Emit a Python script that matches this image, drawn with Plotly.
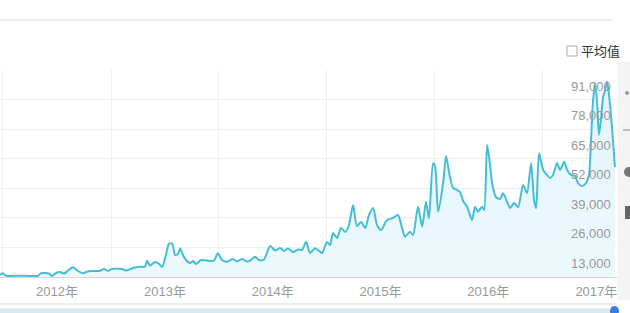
import plotly.graph_objects as go

dates = [
    "2011-06-22", "2011-07-02", "2011-07-12", "2011-08-29", "2011-10-29", "2011-11-08",
    "2011-12-05", "2011-12-15", "2011-12-29", "2012-01-11", "2012-01-25", "2012-02-04",
    "2012-02-24", "2012-03-12", "2012-03-29", "2012-04-12", "2012-04-29", "2012-05-26",
    "2012-06-08", "2012-06-22", "2012-07-05", "2012-08-08", "2012-08-22", "2012-09-14",
    "2012-10-08", "2012-10-25", "2012-11-01", "2012-11-11", "2012-11-28", "2012-12-12",
    "2012-12-22", "2013-01-04", "2013-01-14", "2013-01-25", "2013-02-04", "2013-02-14",
    "2013-02-21", "2013-03-03", "2013-03-13", "2013-03-27", "2013-04-06", "2013-04-16",
    "2013-05-03", "2013-06-02", "2013-06-16", "2013-06-29", "2013-07-13", "2013-07-30",
    "2013-08-19", "2013-09-02", "2013-09-19", "2013-10-06", "2013-10-19", "2013-11-02",
    "2013-11-15", "2013-12-02", "2013-12-23", "2014-01-09", "2014-01-26", "2014-02-08",
    "2014-02-22", "2014-03-11", "2014-03-28", "2014-04-10", "2014-04-24", "2014-05-07",
    "2014-05-24", "2014-06-07", "2014-06-17", "2014-07-04", "2014-07-14", "2014-07-24",
    "2014-08-07", "2014-08-20", "2014-09-03", "2014-09-16", "2014-09-30", "2014-10-13",
    "2014-10-27", "2014-11-10", "2014-11-23", "2014-12-07", "2014-12-20", "2015-01-03",
    "2015-01-23", "2015-02-12", "2015-03-01", "2015-03-15", "2015-03-25", "2015-04-11",
    "2015-04-21", "2015-05-08", "2015-05-22", "2015-06-04", "2015-06-14", "2015-06-28",
    "2015-07-05", "2015-07-15", "2015-08-01", "2015-08-11", "2015-08-24", "2015-09-04",
    "2015-09-17", "2015-09-27", "2015-10-08", "2015-10-21", "2015-11-07", "2015-11-17",
    "2015-11-27", "2015-12-11", "2015-12-18", "2015-12-28", "2016-01-07", "2016-01-14",
    "2016-01-27", "2016-02-10", "2016-02-20", "2016-03-05", "2016-03-15", "2016-03-28",
    "2016-04-11", "2016-04-28", "2016-05-11", "2016-05-25", "2016-06-04", "2016-06-11",
    "2016-06-21", "2016-07-05", "2016-07-18", "2016-07-28", "2016-08-07", "2016-08-21",
    "2016-08-31", "2016-09-14", "2016-09-24", "2016-10-07", "2016-10-21", "2016-10-31",
    "2016-11-14", "2016-11-27", "2016-12-07", "2016-12-14", "2016-12-21", "2016-12-28",
    "2017-01-04", "2017-01-10", "2017-01-17", "2017-01-24", "2017-01-31", "2017-02-06",
    "2017-02-13", "2017-02-23", "2017-03-05",
]

values = [
    880, 1630, 570, 570, 570, 1630,
    1540, 440, 1760, 2200, 1540, 2420,
    4260, 2640, 1630, 2330, 2640, 2770,
    3520, 2640, 3520, 3520, 2860, 3960,
    4530, 4530, 7170, 5060, 6590, 5710,
    4400, 9670, 14500, 14730, 9670, 10110,
    12620, 9670, 7470, 6150, 7030, 5710,
    7470, 7030, 7250, 10420, 7470, 6730,
    7910, 6810, 7910, 6810, 7470, 8920,
    7470, 7690, 13630, 11650, 12750, 11430,
    12530, 10990, 12090, 11870, 15520, 10550,
    12620, 11430, 10550, 15390, 14070, 19340,
    17140, 21540, 19780, 22860, 31650, 22420,
    24180, 21540, 27260, 30330, 22860, 20660,
    25060, 25940, 27260, 21540, 17720, 19910,
    18460, 30900, 22110, 33100, 25800, 49980,
    48490, 28710, 41320, 53190, 44090, 39120,
    38250, 37370, 33410, 30900, 25060, 30900,
    28710, 30900, 29450, 58030, 49240, 41190,
    35170, 34290, 36790, 32970, 30330, 32530,
    30770, 40440, 36930, 49980, 33850, 30200,
    54380, 47040, 44840, 43520, 44840, 50110,
    47040, 50690, 47040, 44840, 44400, 41320,
    40000, 41320, 44840, 60230, 77810, 85280,
    75610, 62420, 69900, 79130, 82210, 85850,
    80010, 65940, 48360,
]

year_ticks = ["2012-01-01", "2013-01-01", "2014-01-01", "2015-01-01", "2016-01-01", "2017-01-01"]
year_labels = ["2012年", "2013年", "2014年", "2015年", "2016年", "2017年"]
mid_year_grid = ["2011-07-02", "2012-07-02", "2013-07-02", "2014-07-02", "2015-07-02", "2016-07-02"]
y_ticks = [13000, 26000, 39000, 52000, 65000, 78000, 91000]
y_labels = ["13,000", "26,000", "39,000", "52,000", "65,000", "78,000", "91,000"]
legend_label = "平均值"

W, H = 630, 313
ML, MR, MT, MB = 0, 13, 70, 36
PW, PH = W - ML - MR, H - MT - MB

def px(x):
    return (x - ML) / PW

def py(y):
    return (H - MB - y) / PH

FONT = "Arial, 'Liberation Sans', 'Noto Sans CJK SC', sans-serif"

fig = go.Figure()
fig.add_trace(go.Scatter(
    x=dates, y=values, mode="lines",
    line=dict(color="#45bdd6", width=2, shape="spline", smoothing=0.7),
    fill="tozeroy",
    fillgradient=dict(type="vertical",
                      colorscale=[[0, "rgba(236,249,253,1)"], [1, "rgba(226,245,252,1)"]]),
    hoverinfo="skip", showlegend=False,
))

shapes = [
    dict(type="line", xref="paper", yref="paper", x0=px(0), x1=px(612), y0=py(20), y1=py(20),
         line=dict(color="#e6e6e6", width=1.5)),
    dict(type="rect", xref="paper", yref="paper", x0=px(567), x1=px(577), y0=py(56), y1=py(46),
         line=dict(color="#aaaaaa", width=1), fillcolor="white"),
    dict(type="rect", xref="paper", yref="paper", x0=px(617.5), x1=px(630), y0=py(300), y1=py(62),
         line=dict(width=0), fillcolor="#f4f4f4", layer="below"),
    dict(type="circle", xref="paper", yref="paper", x0=px(625), x1=px(629), y0=py(95), y1=py(91),
         line=dict(width=0), fillcolor="#999999"),
    dict(type="line", xref="paper", yref="paper", x0=px(623), x1=px(630), y0=py(130), y1=py(130),
         line=dict(color="#bbbbbb", width=2)),
    dict(type="circle", xref="paper", yref="paper", x0=px(624), x1=px(634), y0=py(177), y1=py(167),
         line=dict(width=0), fillcolor="#777777"),
    dict(type="rect", xref="paper", yref="paper", x0=px(625), x1=px(630), y0=py(219), y1=py(206),
         line=dict(width=0), fillcolor="#666666"),
    dict(type="line", xref="paper", yref="paper", x0=px(0), x1=px(617), y0=py(304), y1=py(304),
         line=dict(color="#ececec", width=2)),
    dict(type="rect", xref="paper", yref="paper", x0=px(0), x1=px(617), y0=py(313), y1=py(308.5),
         line=dict(width=0), fillcolor="#d8e8ef"),
    dict(type="circle", xref="paper", yref="paper", x0=px(610), x1=px(619), y0=py(316), y1=py(306),
         line=dict(width=0), fillcolor="#3b7fd8"),
]

annotations = [dict(text=legend_label, xref="paper", yref="paper", x=px(579), y=py(51),
                    xanchor="left", yanchor="middle", showarrow=False,
                    font=dict(size=13, color="#333333", family=FONT))]
for v, lab in zip(y_ticks, y_labels):
    annotations.append(dict(text=lab, xref="paper", yref="y", x=px(613), y=v,
                            xanchor="right", yanchor="middle", yshift=-16, showarrow=False,
                            font=dict(size=13, color="#999999", family=FONT)))

fig.update_layout(
    width=W, height=H,
    margin=dict(l=ML, r=MR, t=MT, b=MB),
    paper_bgcolor="white", plot_bgcolor="white",
    font=dict(family=FONT, size=13, color="#999999"),
    shapes=shapes,
    annotations=annotations,
    xaxis=dict(
        type="date", range=["2011-06-22", "2017-03-12"],
        tickvals=year_ticks, ticktext=year_labels, showgrid=False,
        ticks="", ticklabelstandoff=2, ticklabeloverflow="allow",
        tickfont=dict(color="#999999", size=13, family=FONT),
        showline=True, linecolor="#d6d6d6", linewidth=1,
        minor=dict(tickvals=mid_year_grid, showgrid=True, gridcolor="#efefef", gridwidth=1, ticks=""),
        zeroline=False, fixedrange=True,
    ),
    yaxis=dict(
        range=[0, 91000], side="right", tickvals=y_ticks, showticklabels=False,
        showgrid=True, gridcolor="#efefef", gridwidth=1, zeroline=False, ticks="",
        fixedrange=True,
    ),
)

fig.write_html("out.html")
